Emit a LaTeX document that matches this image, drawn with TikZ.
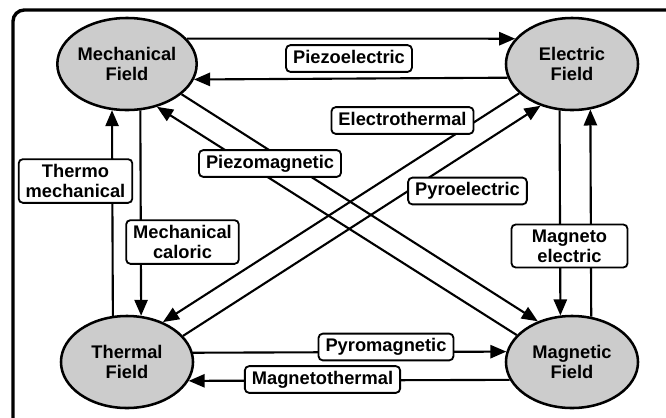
\documentclass[tikz,border=0pt]{standalone}
\usepackage{fontspec}
\setmainfont{Liberation Sans}
\usetikzlibrary{arrows.meta, shapes.geometric}

\begin{document}
\begin{tikzpicture}[x=0.025cm, y=-0.025cm,
    field/.style={draw, ellipse, fill=gray!40, line width=1.8pt, minimum width=3.3cm, minimum height=2.3cm, inner sep=0pt, align=center, font=\fontsize{13}{14.5}\selectfont\bfseries},
    effect/.style={draw, rounded corners=3pt, fill=white, line width=1.3pt, align=center, inner xsep=5pt, inner ysep=3.5pt, font=\fontsize{13}{14.5}\selectfont\bfseries},
    effectline/.style={effect, text height=9.5pt, text depth=2.5pt},
    link/.style={line width=1.5pt, -{Triangle[length=0.4cm, width=0.33cm]}}]
    \useasboundingbox (0,0) rectangle (666,417);
    \begin{scope}
        \clip (0,0) rectangle (666,417);
        \draw[line width=2.4pt, rounded corners=8pt] (13,10) rectangle (700,450);
    \end{scope}

    \node[field] (mech) at (127,64) {Mechanical\\Field};
    \node[field] (elec) at (572,64) {Electric\\Field};
    \node[field] (therm) at (127,362) {Thermal\\Field};
    \node[field] (mag) at (572,362) {Magnetic\\Field};

    \draw[link] (mech.23.1) -- (elec.156.9);
    \draw[link] (elec.192.5) -- (mech.347.5);
    \draw[link] (therm.107.3) -- (mech.252.7);
    \draw[link] (mech.286.1) -- (therm.73.9);
    \draw[link] (elec.255.1) -- (mag.104.9);
    \draw[link] (mag.67.9) -- (elec.292.1);
    \draw[link] (therm.8.8) -- (mag.171.2);
    \draw[link] (mag.196.5) -- (therm.343.5);
    \draw[link] (mech.331) -- (mag.130);
    \draw[link] (mag.154) -- (mech.305);
    \draw[link] (elec.209) -- (therm.48);
    \draw[link] (therm.25) -- (elec.233);

    \node[effectline] (piezoel) at (349,58.5) {Piezoelectric};
    \node[effect] (thermomech) at (75.5,181) {Thermo\\mechanical};
    \node[effect] (mechcal) at (182.5,242) {Mechanical\\caloric};
    \node[effect, minimum width=2.9cm] (magnetoel) at (569.5,246) {Magneto\\electric};
    \node[effectline] (pyromag) at (386,347) {Pyromagnetic};
    \node[effectline] (magtherm) at (322.5,379.5) {Magnetothermal};
    \node[effectline] (piezomag) at (270,163.5) {Piezomagnetic};
    \node[effectline] (electherm) at (402.5,120.5) {Electrothermal};
    \node[effectline] (pyroel) at (467.5,191) {Pyroelectric};
\end{tikzpicture}
\end{document}
